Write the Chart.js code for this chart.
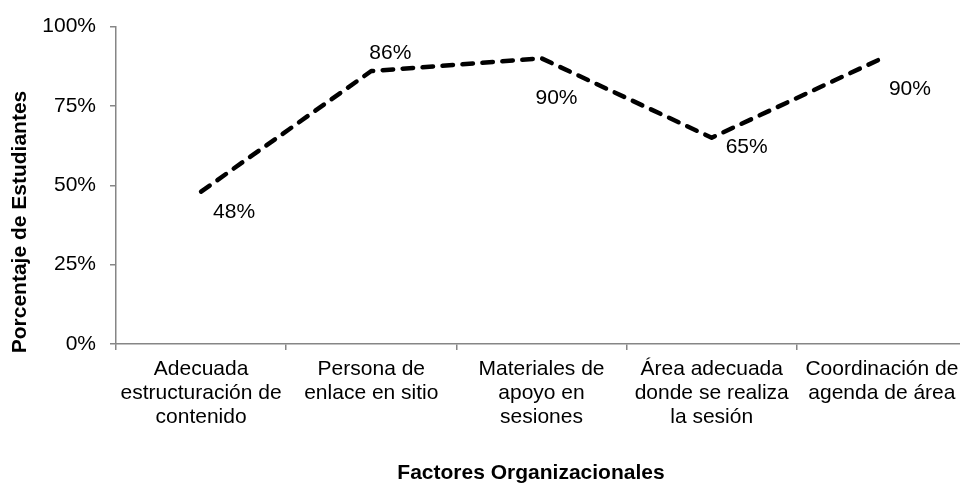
<!DOCTYPE html>
<html>
<head>
<meta charset="utf-8">
<script src="https://cdn.jsdelivr.net/npm/chart.js@4"></script>
<style>
  html, body { margin: 0; padding: 0; background: #fff; overflow: hidden; }
  #wrap { width: 971px; height: 483px; }
</style>
</head>
<body>
<div id="wrap"><canvas id="chart" width="971" height="483"></canvas></div>
<script>
// categories (multi-line, as in the original axis)
const categories = [
  ["Adecuada", "estructuración de", "contenido"],
  ["Persona de", "enlace en sitio"],
  ["Materiales de", "apoyo en", "sesiones"],
  ["Área adecuada", "donde se realiza", "la sesión"],
  ["Coordinación de", "agenda de área"]
];
const percentValues = [48, 86, 90, 65, 90];
const yTicks = [0, 25, 50, 75, 100];
const xTitle = "Factores Organizacionales";
const yTitle = "Porcentaje de Estudiantes";

// where each value label sits relative to its point (dx, dy)
const labelOffsets = [[33, 21], [19, -18], [15, 40], [35, 10], [28, 31]];

const FONT = "'Liberation Sans', Arial, sans-serif";
const AXIS_GRAY = "#868686";

// value labels next to the points
const valueLabels = {
  id: "valueLabels",
  afterDatasetsDraw(chart) {
    const ctx = chart.ctx;
    const meta = chart.getDatasetMeta(0);
    ctx.save();
    ctx.font = "21px " + FONT;
    ctx.fillStyle = "#000";
    ctx.textAlign = "center";
    ctx.textBaseline = "middle";
    meta.data.forEach((pt, i) => {
      const off = labelOffsets[i];
      ctx.fillText(percentValues[i] + "%", pt.x + off[0], pt.y + off[1]);
    });
    ctx.restore();
  }
};

// axis titles, placed where the original has them
const axisTitles = {
  id: "axisTitles",
  afterDraw(chart) {
    const ctx = chart.ctx;
    ctx.save();
    ctx.font = "bold 21px " + FONT;
    ctx.fillStyle = "#000";
    ctx.textAlign = "center";
    ctx.textBaseline = "middle";
    ctx.fillText(xTitle, 531, 473);
    ctx.translate(20, 222);
    ctx.rotate(-Math.PI / 2);
    ctx.fillText(yTitle, 0, 0);
    ctx.restore();
  }
};

new Chart(document.getElementById("chart"), {
  type: "line",
  data: {
    labels: categories,
    datasets: [{
      data: percentValues,
      borderColor: "#000",
      borderWidth: 4.5,
      borderDash: [10.5, 9.5],
      borderCapStyle: "round",
      borderJoinStyle: "round",
      pointRadius: 0,
      tension: 0,
      fill: false
    }]
  },
  options: {
    responsive: false,
    animation: false,
    layout: { padding: { top: 25, right: 4, left: 0, bottom: 0 } },
    plugins: {
      legend: { display: false },
      tooltip: { enabled: false }
    },
    scales: {
      x: {
        type: "category",
        offset: true,
        afterFit: (s) => { s.height = 139; },
        grid: {
          display: true,
          drawOnChartArea: false,
          drawTicks: true,
          tickLength: 6,
          offset: true,
          color: AXIS_GRAY,
          lineWidth: 1.5
        },
        border: { display: true, color: AXIS_GRAY, width: 1.5 },
        ticks: {
          color: "#000",
          font: { family: FONT, size: 21, lineHeight: 1.15 },
          padding: 7,
          maxRotation: 0,
          autoSkip: false
        }
      },
      y: {
        min: 0,
        max: 100,
        afterFit: (s) => { s.width = 116; },
        afterBuildTicks: (s) => { s.ticks = yTicks.map(v => ({ value: v })); },
        grid: {
          display: true,
          drawOnChartArea: false,
          drawTicks: true,
          tickLength: 6,
          color: AXIS_GRAY,
          lineWidth: 1.5
        },
        border: { display: true, color: AXIS_GRAY, width: 1.5 },
        ticks: {
          color: "#000",
          font: { family: FONT, size: 21 },
          padding: 14,
          callback: (v) => v + "%"
        }
      }
    }
  },
  plugins: [valueLabels, axisTitles]
});
</script>
</body>
</html>
